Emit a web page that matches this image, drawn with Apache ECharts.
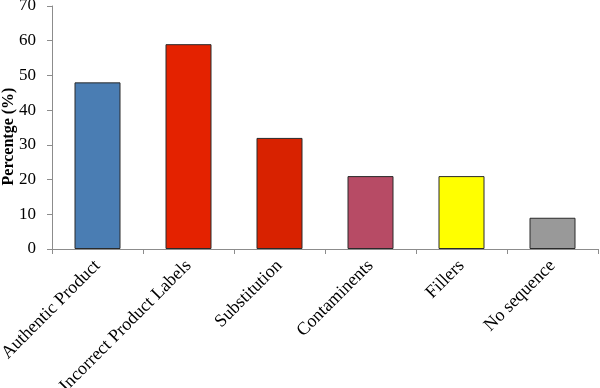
<!DOCTYPE html>
<html><head><meta charset="utf-8">
<script src="https://cdn.jsdelivr.net/npm/echarts@6/dist/echarts.min.js"></script>
<style>html,body{margin:0;padding:0;background:#fff}#c{width:600px;height:388px}</style>
</head><body><div id="c"></div>
<script>
const categories = ["Authentic Product","Incorrect Product Labels","Substitution","Contaminents","Fillers","No sequence"];
const values = [48, 59, 32, 21, 21, 9];
const colors = ["#4a7db3","#e42200","#d82200","#b74b65","#ffff00","#999999"];
const yTicks = [0,10,20,30,40,50,60,70];

const chart = echarts.init(document.getElementById('c'));
const font = "'Liberation Serif', 'DejaVu Serif', serif";
chart.setOption({
  animation:false,
  grid:{left:52,right:2,top:6,bottom:139,containLabel:false,outerBoundsMode:'none'},
  xAxis:{type:'category',data:categories,
    axisLine:{lineStyle:{color:'#8c8c8c'}},
    axisTick:{show:true,alignWithLabel:false,length:5,lineStyle:{color:'#8c8c8c'}},
    axisLabel:{rotate:45,interval:0,color:'#000',fontFamily:font,fontSize:18,margin:14}},
  yAxis:{type:'value',min:0,max:70,interval:10,
    name:'Percentge (%)',nameLocation:'middle',nameGap:35,nameMoveOverlap:false,
    nameTextStyle:{fontFamily:font,fontWeight:'bold',fontSize:16,color:'#000',padding:[0,18,0,0]},
    axisLine:{show:true,lineStyle:{color:'#8c8c8c'}},
    axisTick:{show:true,length:5,lineStyle:{color:'#8c8c8c'}},
    splitLine:{show:false},
    axisLabel:{color:'#000',fontFamily:font,fontSize:17,margin:16,
      formatter:v=>yTicks.includes(v)?String(v):''}},
  series:[{type:'bar',barWidth:46,
    data:values.map((v,i)=>({value:v,itemStyle:{color:colors[i]}})),
    itemStyle:{borderColor:'#2a2a2a',borderWidth:1}}]
});
</script></body></html>
